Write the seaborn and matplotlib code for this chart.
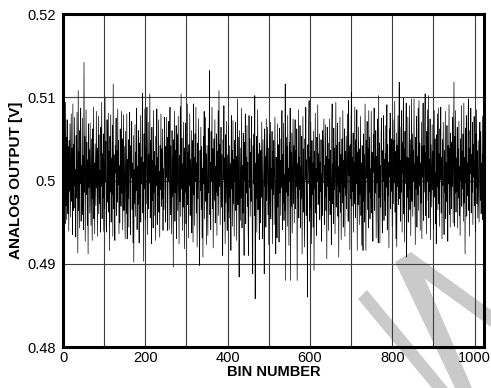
import numpy as np
import pandas as pd
import matplotlib
matplotlib.use("Agg")
import matplotlib.pyplot as plt
from matplotlib.patches import Polygon
import seaborn as sns

# Analog output per bin, in millivolts
output_mV = [
    503.4, 496.2, 506.1, 498.8, 502.7, 494.8, 509.4, 497.0, 505.2, 495.3, 507.3, 500.6, 496.0, 504.1, 493.9, 504.8,
    498.7, 506.8, 495.6, 502.2, 508.0, 497.5, 503.9, 493.5, 509.2, 496.4, 504.3, 499.4, 507.6, 496.7, 501.3, 493.2,
    505.4, 497.9, 508.2, 500.3, 491.3, 510.8, 496.4, 503.5, 494.3, 506.0, 499.6, 508.7, 495.1, 501.8, 497.7, 507.5,
    495.9, 503.0, 494.1, 514.2, 498.6, 505.3, 492.7, 500.9, 508.5, 498.3, 504.6, 494.6, 502.5, 491.2, 506.8, 499.2,
    503.7, 496.1, 506.9, 500.2, 494.6, 505.0, 499.5, 492.8, 506.2, 497.8, 508.8, 495.4, 502.1, 493.6, 504.4, 500.8,
    497.0, 508.3, 499.1, 503.9, 493.3, 501.4, 507.7, 496.0, 505.5, 497.2, 501.2, 493.8, 506.4, 499.3, 509.4, 495.4,
    503.2, 497.9, 505.6, 493.9, 502.3, 496.6, 510.0, 499.8, 504.7, 494.6, 493.8, 507.3, 500.4, 497.4, 508.1, 496.2,
    503.5, 491.6, 505.3, 498.6, 507.9, 495.0, 502.7, 498.3, 506.6, 493.3, 511.6, 496.6, 503.1, 499.2, 492.8, 504.2,
    500.9, 507.5, 495.8, 503.6, 497.4, 508.6, 499.5, 504.8, 493.6, 501.8, 494.9, 506.2, 500.0, 496.9, 508.3, 498.5,
    505.0, 494.1, 501.5, 507.9, 496.4, 504.1, 498.9, 493.0, 505.9, 500.8, 496.0, 508.0, 493.0, 502.5, 497.8, 504.9,
    494.4, 502.9, 508.2, 499.3, 493.5, 504.2, 500.3, 507.1, 496.5, 502.1, 492.5, 505.4, 490.2, 501.3, 497.2, 506.7,
    495.7, 503.4, 498.8, 508.7, 494.1, 501.7, 497.1, 506.0, 500.6, 492.5, 504.5, 497.9, 507.8, 495.0, 502.8, 499.6,
    504.3, 510.5, 496.1, 502.2, 490.3, 505.6, 499.0, 508.6, 495.3, 503.9, 497.2, 505.0, 508.8, 493.5, 500.7, 507.0,
    496.6, 503.1, 499.7, 510.4, 495.5, 504.8, 500.1, 492.4, 506.4, 497.6, 502.4, 494.3, 508.4, 498.6, 503.5, 495.8,
    501.8, 492.8, 505.3, 499.4, 508.6, 494.7, 502.8, 498.2, 507.3, 496.2, 501.1, 493.2, 504.2, 498.9, 508.0, 496.9,
    503.8, 497.8, 506.2, 494.0, 501.4, 496.5, 504.6, 507.6, 499.2, 495.0, 504.1, 500.4, 507.6, 497.3, 494.0, 505.2,
    500.0, 507.1, 494.1, 503.2, 508.8, 495.9, 504.2, 499.3, 493.6, 506.0, 498.1, 502.7, 489.6, 504.9, 498.6, 508.3,
    495.1, 503.6, 498.5, 506.6, 493.0, 501.0, 505.5, 496.4, 507.7, 499.7, 492.4, 503.0, 497.5, 508.9, 495.7, 510.4,
    499.0, 505.1, 494.0, 502.0, 496.8, 507.0, 500.3, 491.8, 503.9, 498.6, 506.9, 494.8, 501.4, 497.9, 509.2, 497.1,
    503.4, 493.1, 504.3, 499.4, 508.0, 495.8, 502.5, 497.2, 506.0, 493.7, 500.8, 504.8, 492.6, 509.2, 498.3, 502.8,
    494.6, 505.6, 499.9, 508.8, 496.1, 502.1, 492.0, 504.5, 497.8, 507.4, 500.6, 494.4, 489.8, 503.6, 498.8, 506.4,
    496.5, 504.1, 493.1, 501.5, 490.8, 505.3, 499.6, 508.3, 495.4, 501.3, 507.6, 497.5, 503.2, 492.3, 504.2, 499.2,
    493.4, 506.3, 498.5, 502.8, 513.2, 495.9, 502.2, 494.1, 505.9, 500.0, 508.8, 496.6, 503.8, 491.9, 501.1, 505.0,
    497.6, 507.3, 494.9, 501.7, 498.6, 505.6, 493.4, 503.5, 498.2, 508.4, 495.8, 510.8, 499.3, 504.3, 494.7, 502.4,
    506.4, 496.8, 503.1, 498.9, 491.0, 504.9, 500.1, 509.0, 495.1, 502.7, 492.4, 505.5, 497.3, 507.1, 499.4, 494.0,
    503.1, 496.2, 506.7, 500.7, 495.5, 504.2, 498.0, 502.0, 491.6, 507.8, 499.0, 503.6, 494.5, 507.2, 497.2, 502.5,
    493.3, 504.8, 499.9, 507.0, 496.4, 502.9, 492.8, 501.0, 509.8, 497.1, 505.2, 498.7, 488.4, 506.0, 500.3, 495.2,
    503.9, 497.9, 508.7, 494.3, 501.8, 496.1, 505.7, 499.7, 491.0, 504.6, 500.0, 508.0, 494.8, 502.8, 498.5, 506.6,
    496.9, 502.2, 493.6, 491.0, 507.8, 499.2, 505.0, 495.7, 503.4, 497.5, 507.7, 500.8, 492.0, 488.8, 504.2, 499.6,
    505.6, 495.8, 510.2, 485.8, 502.1, 497.8, 505.3, 493.8, 501.3, 508.5, 496.5, 503.2, 498.9, 492.9, 504.5, 500.4,
    494.9, 503.6, 498.0, 507.0, 498.6, 493.0, 504.9, 501.1, 496.6, 488.8, 506.2, 499.3, 502.9, 494.4, 507.4, 497.6,
    501.7, 506.4, 495.9, 503.9, 492.3, 500.6, 505.5, 497.2, 507.0, 495.4, 501.4, 499.0, 505.9, 492.4, 503.5, 498.3,
    504.8, 494.7, 500.8, 507.6, 497.9, 491.2, 502.8, 499.4, 493.1, 506.8, 496.8, 504.3, 500.0, 492.6, 506.3, 498.5,
    502.4, 495.8, 505.0, 499.2, 508.4, 494.1, 503.1, 497.3, 506.9, 495.2, 500.7, 496.4, 511.6, 488.0, 505.2, 498.6,
    504.1, 494.5, 507.8, 498.2, 501.5, 492.2, 504.6, 499.9, 508.7, 488.0, 503.4, 496.9, 505.7, 493.7, 501.0, 507.4,
    497.2, 504.2, 494.9, 502.7, 507.3, 496.6, 503.6, 499.3, 506.2, 488.0, 502.0, 498.0, 508.5, 495.5, 502.8, 498.9,
    506.6, 494.3, 501.7, 497.8, 505.3, 491.2, 500.4, 507.7, 496.2, 503.8, 498.6, 492.0, 505.0, 500.1, 508.8, 495.8,
    502.5, 497.5, 486.0, 504.3, 499.6, 506.4, 509.6, 495.1, 502.8, 496.5, 507.0, 500.3, 492.4, 504.8, 498.3, 502.1,
    494.4, 505.9, 489.2, 503.5, 499.0, 508.1, 496.1, 501.4, 493.4, 505.2, 500.0, 509.1, 497.1, 503.2, 497.9, 505.6,
    495.3, 502.2, 498.7, 504.9, 492.7, 500.8, 495.8, 506.0, 499.7, 504.1, 507.4, 494.7, 501.8, 498.0, 506.7, 496.4,
    502.9, 490.6, 506.4, 499.3, 504.5, 494.0, 502.5, 497.6, 507.4, 495.9, 503.6, 500.0, 492.3, 505.5, 509.2, 497.2,
    502.0, 494.8, 506.3, 498.9, 503.9, 493.6, 501.3, 509.4, 496.8, 504.2, 499.4, 506.9, 495.7, 501.7, 490.8, 504.6,
    498.6, 507.6, 496.2, 503.1, 492.9, 500.7, 505.0, 497.3, 508.4, 494.4, 502.4, 499.2, 506.2, 493.3, 503.5, 498.2,
    505.3, 496.6, 501.5, 508.0, 499.0, 495.1, 509.6, 500.6, 504.1, 491.7, 504.3, 497.8, 507.0, 510.6, 496.9, 502.8,
    498.7, 505.7, 493.8, 502.2, 497.2, 508.8, 500.1, 495.5, 504.9, 499.6, 508.5, 491.6, 503.4, 497.1, 506.4, 500.8,
    494.7, 503.8, 498.3, 507.7, 495.8, 502.1, 492.2, 504.2, 499.9, 491.6, 505.6, 497.5, 503.1, 495.0, 509.2, 499.3,
    491.6, 504.8, 500.3, 507.1, 496.5, 503.9, 494.3, 508.4, 498.6, 505.2, 495.4, 501.4, 497.9, 508.3, 496.1, 503.4,
    499.4, 492.7, 505.5, 501.0, 508.7, 496.4, 502.7, 498.5, 506.0, 493.1, 502.9, 499.7, 507.4, 495.9, 492.5, 510.2,
    498.0, 504.5, 492.5, 501.8, 496.8, 505.6, 507.5, 498.9, 493.7, 503.6, 500.0, 507.8, 495.2, 502.5, 497.6, 506.6,
    495.8, 503.2, 499.2, 509.1, 494.1, 504.3, 498.2, 502.2, 491.9, 506.2, 500.4, 508.1, 496.6, 504.1, 498.7, 505.0,
    494.5, 501.4, 507.3, 497.2, 504.8, 499.7, 509.5, 496.2, 503.5, 493.0, 505.7, 492.0, 504.2, 499.3, 507.8, 497.1,
    503.1, 511.8, 497.8, 506.4, 495.1, 502.4, 498.6, 508.4, 493.8, 504.6, 500.8, 509.9, 496.0, 503.8, 492.6, 505.9,
    499.6, 505.3, 509.3, 490.8, 502.8, 498.0, 507.6, 495.0, 502.7, 498.9, 509.0, 496.5, 504.9, 493.4, 501.1, 509.8,
    497.5, 505.6, 495.7, 503.6, 500.0, 509.8, 496.9, 502.0, 492.3, 505.2, 499.0, 507.7, 494.4, 502.9, 498.3, 508.7,
    496.4, 509.6, 499.4, 504.5, 494.0, 502.1, 497.3, 507.0, 493.0, 504.1, 500.4, 509.3, 495.2, 504.2, 498.6, 506.3,
    510.4, 495.8, 503.4, 493.6, 505.9, 499.9, 508.5, 497.6, 510.2, 495.5, 502.5, 498.7, 507.4, 492.9, 504.3, 500.7,
    496.8, 506.7, 498.9, 503.5, 494.1, 501.8, 508.4, 498.0, 505.0, 494.8, 501.0, 492.4, 505.5, 499.2, 508.0, 496.5,
    508.7, 497.2, 503.2, 494.5, 506.2, 500.1, 508.8, 496.1, 502.8, 493.0, 504.9, 499.4, 507.0, 497.8, 493.5, 503.6,
    498.6, 508.3, 495.4, 502.2, 497.5, 506.6, 500.6, 492.7, 504.2, 499.6, 509.1, 495.9, 503.9, 494.4, 505.7, 500.3,
    496.6, 504.6, 499.3, 507.6, 494.9, 502.9, 511.8, 494.5, 505.3, 498.5, 508.4, 496.2, 502.7, 498.7, 506.4, 494.3,
    503.8, 497.9, 507.1, 495.8, 501.7, 493.4, 505.0, 500.0, 509.0, 496.9, 503.5, 499.0, 505.6, 495.1, 509.3, 497.3,
    502.8, 491.2, 506.3, 499.7, 507.8, 495.7, 502.1, 498.2, 505.5, 509.8, 496.4, 503.9, 493.3, 506.0, 500.8, 508.7,
    496.1, 503.1, 498.6, 507.0, 494.7, 504.3, 500.4, 507.7, 497.0, 502.4, 493.8, 505.6, 499.2, 508.5, 497.2, 503.6,
    495.5, 504.8, 500.1, 495.0, 502.8, 507.0, 497.6, 505.9, 496.0, 502.1, 498.6, 507.7, 495.3, 503.2, 497.9, 501.4,
]
bin_number = list(range(len(output_mV)))

y_ticks = [0.48, 0.49, 0.50, 0.51, 0.52]
y_tick_labels = ["0.48", "0.49", "0.5", "0.51", "0.52"]
x_ticks = [0, 200, 400, 600, 800, 1000]
x_minor = [100, 300, 500, 700, 900]

df = pd.DataFrame({"bin": bin_number, "volts": np.array(output_mV) / 1000.0})

sns.set_theme(style="white")
plt.rcParams["font.family"] = ["Liberation Sans", "DejaVu Sans"]
plt.rcParams["text.color"] = "black"
plt.rcParams["axes.labelcolor"] = "black"

W, H = 491, 388
fig = plt.figure(figsize=(W / 100, H / 100), dpi=100, facecolor="white")
ax = fig.add_axes([63 / W, 1 - 347 / H, (484 - 63) / W, (347 - 14) / H])
ax.set_facecolor("none")

# light-grey diagonal watermark stripes (figure pixel coords, y from top)
def px(pts):
    return [(x / W, 1 - y / H) for x, y in pts]

wm = "#cacaca"
fig.patches.append(Polygon(px([(358, 299), (367, 290), (448, 388), (432, 388)]),
                           closed=True, transform=fig.transFigure, fc=wm, ec="none", zorder=-5))
fig.patches.append(Polygon(px([(395, 262), (411, 252), (491, 310), (491, 327), (425, 279),
                               (472, 388), (455, 388)]),
                           closed=True, transform=fig.transFigure, fc=wm, ec="none", zorder=-5))

sns.lineplot(data=df, x="bin", y="volts", ax=ax, color="black", linewidth=0.5,
             estimator=None, sort=False, legend=False)

ax.set_xlim(0, 1023)
ax.set_ylim(0.48, 0.52)
ax.set_xticks(x_ticks)
ax.set_xticks(x_minor, minor=True)
ax.set_xticklabels([str(t) for t in x_ticks])
ax.set_yticks(y_ticks)
ax.set_yticklabels(y_tick_labels)
ax.grid(True, which="both", color="#3c3c3c", linewidth=0.8)
ax.set_axisbelow(True)
ax.tick_params(axis="both", which="both", length=0, labelsize=10.5, labelcolor="black")
ax.tick_params(axis="x", pad=3)
ax.tick_params(axis="y", pad=5)
for s in ax.spines.values():
    s.set_visible(True)
    s.set_color("black")
    s.set_linewidth(2.2)

ax.set_xlabel("BIN NUMBER", fontsize=10.5, fontweight="bold", labelpad=0, color="black")
ax.set_ylabel("ANALOG OUTPUT [V]", fontsize=11, fontweight="bold", labelpad=3, color="black")

fig.savefig("out.png", dpi=100, facecolor="white")
